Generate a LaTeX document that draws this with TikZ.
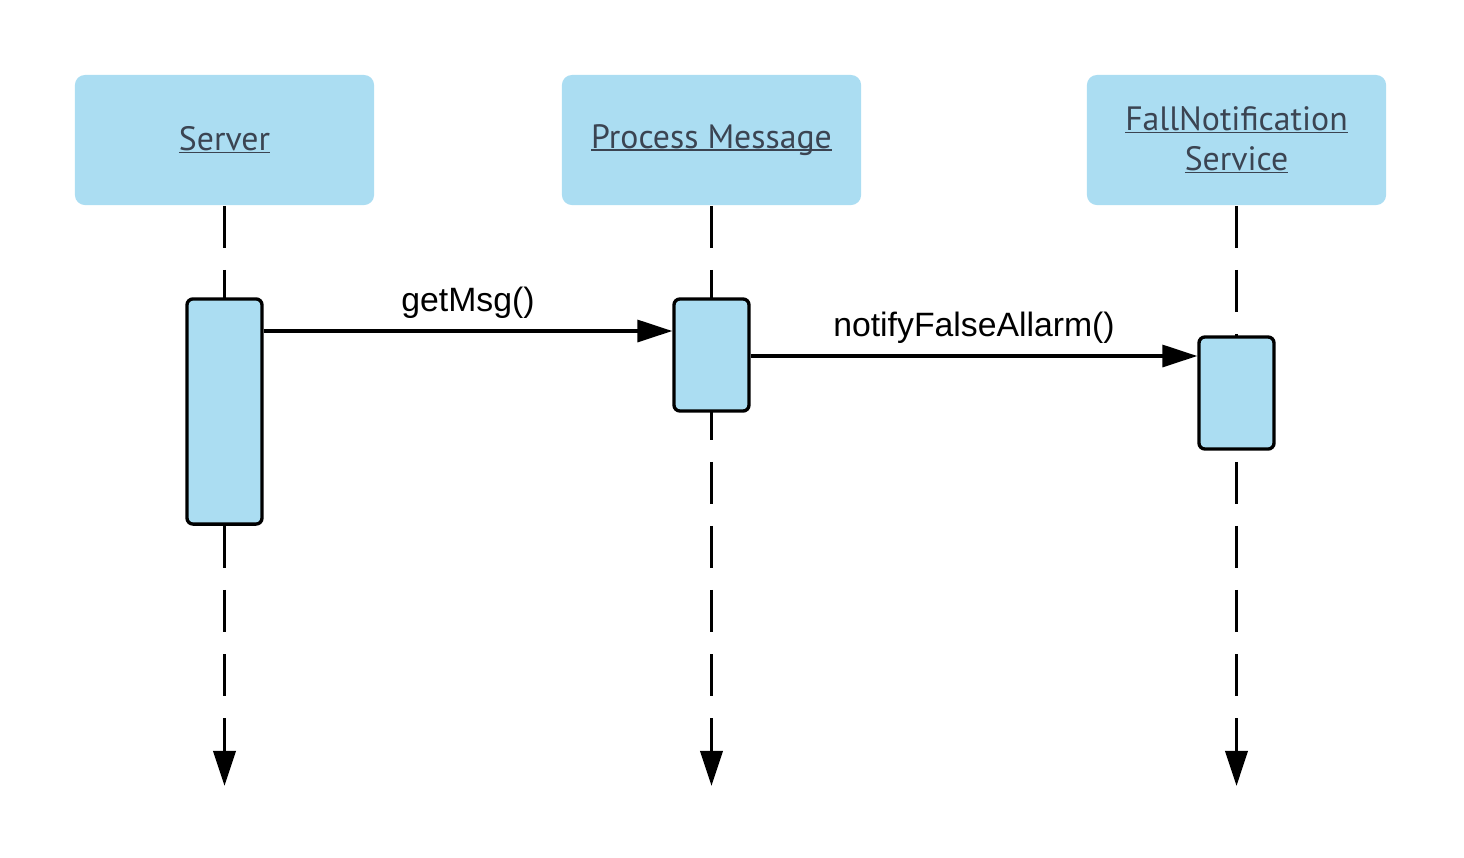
\documentclass[tikz,border=0pt]{standalone}
\usepackage{fontspec}
\usepackage{tikz}
\usetikzlibrary{arrows.meta}
\setmainfont{Liberation Sans}
\newfontfamily\headfont{PT Sans}
\definecolor{lifeblue}{HTML}{ABDDF2}
\definecolor{headtext}{HTML}{3B4452}
\newcommand{\ulname}[1]{\setbox0\hbox{#1}\rlap{\rule[-0.75pt]{\wd0}{0.5pt}}\box0}
\tikzset{
  headbox/.style={fill=lifeblue, rounded corners=0.1cm, minimum width=2.99cm,
    minimum height=1.3cm, align=center, text=headtext,
    font=\headfont\fontsize{9.6}{11.4}\selectfont},
  actbox/.style={draw=black, fill=lifeblue, line width=0.95pt, rounded corners=0.06cm,
    minimum width=0.75cm},
  lifeline/.style={line width=1.05pt, dash pattern=on 0.42cm off 0.22cm,
    -{Triangle[length=0.35cm,width=0.22cm]}},
  msg/.style={line width=0.95pt, -{Triangle[length=0.35cm,width=0.22cm]}},
  msglabel/.style={font=\fontsize{9.6}{11.5}\selectfont}
}
\begin{document}
\begin{tikzpicture}[x=0.01cm,y=-0.01cm]
        \useasboundingbox (0,0) rectangle (1464,857);
        % headers
        \node[headbox] (server) at (224.5,140) {\ulname{Server}};
        \node[headbox] (procmsg) at (711.5,140) {\ulname{Process Message}};
        \node[headbox] (fallsvc) at (1236.5,140) {\ulname{FallNotification}\\\ulname{Service}};
        % lifelines
        \coordinate (serverend) at (224.5,786);
        \coordinate (procmsgend) at (711.5,786);
        \coordinate (fallsvcend) at (1236.5,786);
        \draw[lifeline] (server.south) -- (serverend);
        \draw[lifeline] (procmsg.south) -- (procmsgend);
        \draw[lifeline] (fallsvc.south) -- (fallsvcend);
        % activations
        \node[actbox, minimum height=2.25cm] (serveract) at (224.5,411.5) {};
        \node[actbox, minimum height=1.12cm] (procmsgact) at (711.5,355) {};
        \node[actbox, minimum height=1.12cm] (fallsvcact) at (1236.5,393) {};
        % messages
        \draw[msg] (serveract.east |- 0,331) -- (procmsgact.west |- 0,331)
            node[msglabel, midway, above=-0.01cm] (getmsg) {getMsg()};
        \draw[msg] (procmsgact.east |- 0,356) -- (fallsvcact.west |- 0,356)
            node[msglabel, midway, above=-0.01cm] (notify) {notifyFalseAllarm()};
\end{tikzpicture}
\end{document}
